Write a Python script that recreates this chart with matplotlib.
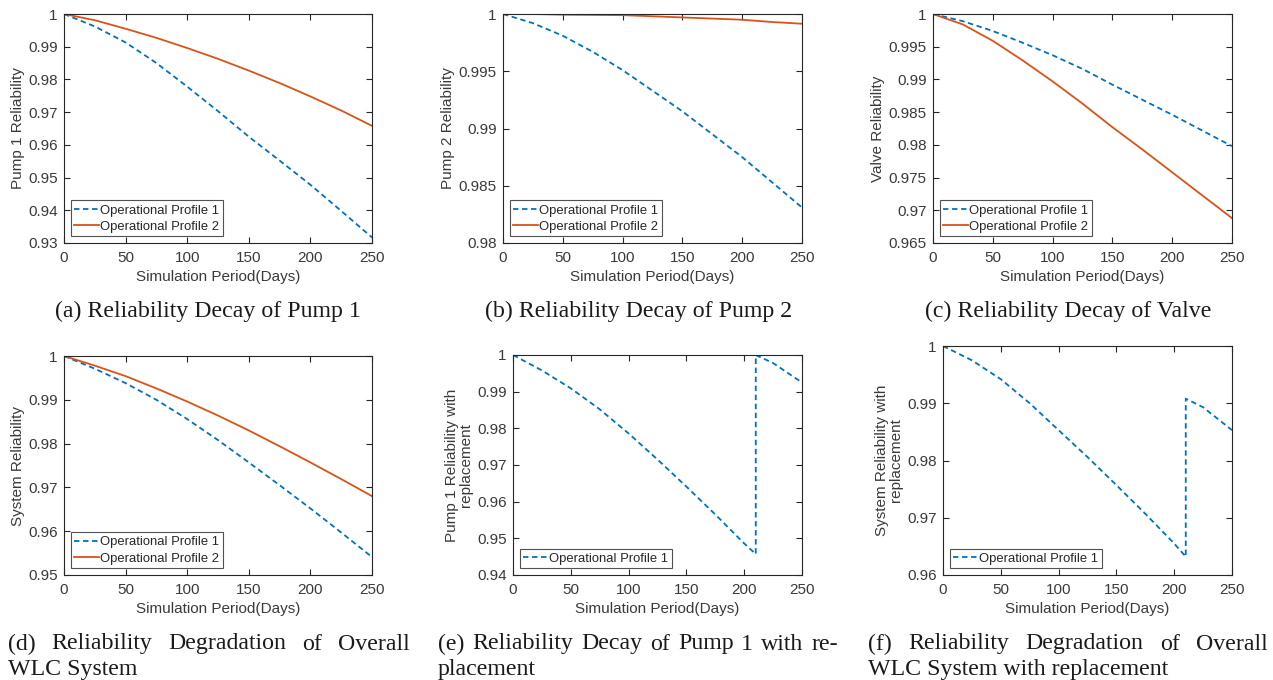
import numpy as np
import matplotlib
matplotlib.use("Agg")
import matplotlib.pyplot as plt

# ---- data ----
days = [0, 25, 50, 75, 100, 125, 150, 175, 200, 225, 250]

pump1_op1 = [1.0, 0.9962, 0.9913, 0.9850, 0.9778, 0.9703, 0.9625, 0.9552, 0.9478, 0.9398, 0.9317]
pump1_op2 = [1.0, 0.9981, 0.9955, 0.9927, 0.9896, 0.9863, 0.9827, 0.9789, 0.9748, 0.9705, 0.9658]

pump2_op1 = [1.0, 0.9992, 0.9981, 0.9967, 0.9951, 0.9933, 0.9915, 0.9895, 0.9875, 0.9853, 0.9831]
pump2_op2 = [1.0, 1.0, 0.99994, 0.99992, 0.9999, 0.9998, 0.9997, 0.9996, 0.9995, 0.9993, 0.99915]

valve_op1 = [1.0, 0.9989, 0.9974, 0.9956, 0.9937, 0.9916, 0.9892, 0.9869, 0.9846, 0.9822, 0.9798]
valve_op2 = [1.0, 0.9984, 0.9959, 0.9929, 0.9897, 0.9863, 0.9827, 0.9793, 0.9758, 0.9723, 0.9688]

system_op1 = [1.0, 0.9971, 0.9938, 0.9900, 0.9856, 0.9808, 0.9757, 0.9705, 0.9652, 0.9597, 0.9541]
system_op2 = [1.0, 0.9978, 0.9954, 0.9926, 0.9896, 0.9864, 0.9830, 0.9794, 0.9757, 0.9719, 0.9680]

repl_days = [0, 25, 50, 75, 100, 125, 150, 175, 200, 210, 210, 225, 250]
pump1_repl = [1.0, 0.9958, 0.9909, 0.9852, 0.9786, 0.9715, 0.9641, 0.9565, 0.9486, 0.9457, 1.0, 0.9978, 0.9925]
system_repl = [1.0, 0.9975, 0.9942, 0.9900, 0.9853, 0.9806, 0.9757, 0.9707, 0.9655, 0.9632, 0.9908, 0.9893, 0.9853]

labels = ["Operational Profile 1", "Operational Profile 2"]
x_ticks = [0, 50, 100, 150, 200, 250]

BLUE = "#0072BD"
RED = "#D95319"
AX_COLOR = "#262626"
TXT_COLOR = "#3a3a3a"
SANS = ["Liberation Sans", "DejaVu Sans"]
SERIF = ["Liberation Serif", "DejaVu Serif"]

W, H = 1273, 680
fig = plt.figure(figsize=(W / 100, H / 100), dpi=100)


def px_axes(left, top, right, bottom):
    return fig.add_axes([left / W, 1 - bottom / H, (right - left) / W, (bottom - top) / H])


def style_axes(ax, ylim, yticks, yticklabels, ylabel, ylabel_x):
    ax.set_xlim(0, 250)
    ax.set_ylim(*ylim)
    ax.set_xticks(x_ticks)
    ax.set_xticklabels([str(t) for t in x_ticks])
    ax.set_yticks(yticks)
    ax.set_yticklabels(yticklabels)
    ax.tick_params(direction="in", top=True, right=True, length=4, width=0.8,
                   colors=AX_COLOR, labelsize=11)
    ax.tick_params(axis="x", pad=6)
    ax.tick_params(axis="y", pad=4.5)
    for lab in ax.get_xticklabels() + ax.get_yticklabels():
        lab.set_family(SANS)
        lab.set_color(TXT_COLOR)
    for sp in ax.spines.values():
        sp.set_color(AX_COLOR)
        sp.set_linewidth(0.8)
    ax.set_xlabel("Simulation Period(Days)", family=SANS, fontsize=11, color=TXT_COLOR, labelpad=3)
    ax.set_ylabel(ylabel, family=SANS, fontsize=11, color=TXT_COLOR, linespacing=1.0)
    ax.yaxis.set_label_coords(ylabel_x, 0.5)


def add_legend(ax):
    leg = ax.legend(loc="lower left", prop={"family": SANS, "size": 9.4}, frameon=True,
                    fancybox=False, borderpad=0.3, handlelength=1.9, handletextpad=0.05,
                    labelspacing=0.3, borderaxespad=0.5)
    leg.get_frame().set_edgecolor(AX_COLOR)
    leg.get_frame().set_linewidth(0.8)
    for t in leg.get_texts():
        t.set_color("#262626")


def plot_pair(ax, y1, y2):
    ax.plot(days, y1, color=BLUE, lw=1.3, dashes=(3, 2), label=labels[0])
    ax.plot(days, y2, color=RED, lw=1.3, label=labels[1])


# (a) pump 1
ax_a = px_axes(64, 14, 372, 243)
plot_pair(ax_a, pump1_op1, pump1_op2)
yt = [0.93, 0.94, 0.95, 0.96, 0.97, 0.98, 0.99, 1.0]
style_axes(ax_a, (0.93, 1.0), yt, ["0.93", "0.94", "0.95", "0.96", "0.97", "0.98", "0.99", "1"],
           "Pump 1 Reliability", -0.127)
add_legend(ax_a)

# (b) pump 2
ax_b = px_axes(503, 14, 802, 243)
plot_pair(ax_b, pump2_op1, pump2_op2)
yt = [0.98, 0.985, 0.99, 0.995, 1.0]
style_axes(ax_b, (0.98, 1.0), yt, ["0.98", "0.985", "0.99", "0.995", "1"],
           "Pump 2 Reliability", -0.16)
add_legend(ax_b)

# (c) valve
ax_c = px_axes(933, 14, 1232, 243)
plot_pair(ax_c, valve_op1, valve_op2)
yt = [0.965, 0.97, 0.975, 0.98, 0.985, 0.99, 0.995, 1.0]
style_axes(ax_c, (0.965, 1.0), yt, ["0.965", "0.97", "0.975", "0.98", "0.985", "0.99", "0.995", "1"],
           "Valve Reliability", -0.16)
add_legend(ax_c)

# (d) system
ax_d = px_axes(64, 356, 372, 575)
plot_pair(ax_d, system_op1, system_op2)
yt = [0.95, 0.96, 0.97, 0.98, 0.99, 1.0]
style_axes(ax_d, (0.95, 1.0), yt, ["0.95", "0.96", "0.97", "0.98", "0.99", "1"],
           "System Reliability", -0.127)
add_legend(ax_d)

# (e) pump 1 with replacement
ax_e = px_axes(513, 355, 802, 575)
ax_e.plot(repl_days, pump1_repl, color=BLUE, lw=1.3, dashes=(3, 2), label=labels[0])
yt = [0.94, 0.95, 0.96, 0.97, 0.98, 0.99, 1.0]
style_axes(ax_e, (0.94, 1.0), yt, ["0.94", "0.95", "0.96", "0.97", "0.98", "0.99", "1"],
           "Pump 1 Reliability with\nreplacement", -0.138)
add_legend(ax_e)

# (f) system with replacement
ax_f = px_axes(943, 346, 1232, 575)
ax_f.plot(repl_days, system_repl, color=BLUE, lw=1.3, dashes=(3, 2), label=labels[0])
yt = [0.96, 0.97, 0.98, 0.99, 1.0]
style_axes(ax_f, (0.96, 1.0), yt, ["0.96", "0.97", "0.98", "0.99", "1"],
           "System Reliability with\nreplacement", -0.138)
add_legend(ax_f)

# ---- captions ----
CAP_SIZE = 17.2
CAP_COLOR = "#1a1a1a"
for cx, text in [(208, "(a) Reliability Decay of Pump 1"),
                 (639, "(b) Reliability Decay of Pump 2"),
                 (1068, "(c) Reliability Decay of Valve")]:
    fig.text(cx / W, 1 - 311 / H, text, family=SERIF, fontsize=CAP_SIZE,
             ha="center", va="center", color=CAP_COLOR)

fig.canvas.draw()
renderer = fig.canvas.get_renderer()


def justified(x0, x1, y, line):
    # spread words over the full column width, like the paper's justified text
    words = line.split()
    texts = [fig.text(0, 1 - y / H, w, family=SERIF, fontsize=CAP_SIZE, ha="left",
                      va="center", color=CAP_COLOR) for w in words]
    widths = [t.get_window_extent(renderer).width for t in texts]
    gap = (x1 - x0 - sum(widths)) / (len(words) - 1)
    x = x0
    for t, w in zip(texts, widths):
        t.set_x(x / W)
        x += w + gap


def plain(x0, y, line):
    fig.text(x0 / W, 1 - y / H, line, family=SERIF, fontsize=CAP_SIZE, ha="left",
             va="center", color=CAP_COLOR)


justified(8, 410, 644, "(d) Reliability Degradation of Overall")
plain(8, 669, "WLC System")
justified(438, 838, 644, "(e) Reliability Decay of Pump 1 with re-")
plain(438, 669, "placement")
justified(868, 1268, 644, "(f) Reliability Degradation of Overall")
plain(868, 669, "WLC System with replacement")

fig.savefig("out.png", dpi=100)
